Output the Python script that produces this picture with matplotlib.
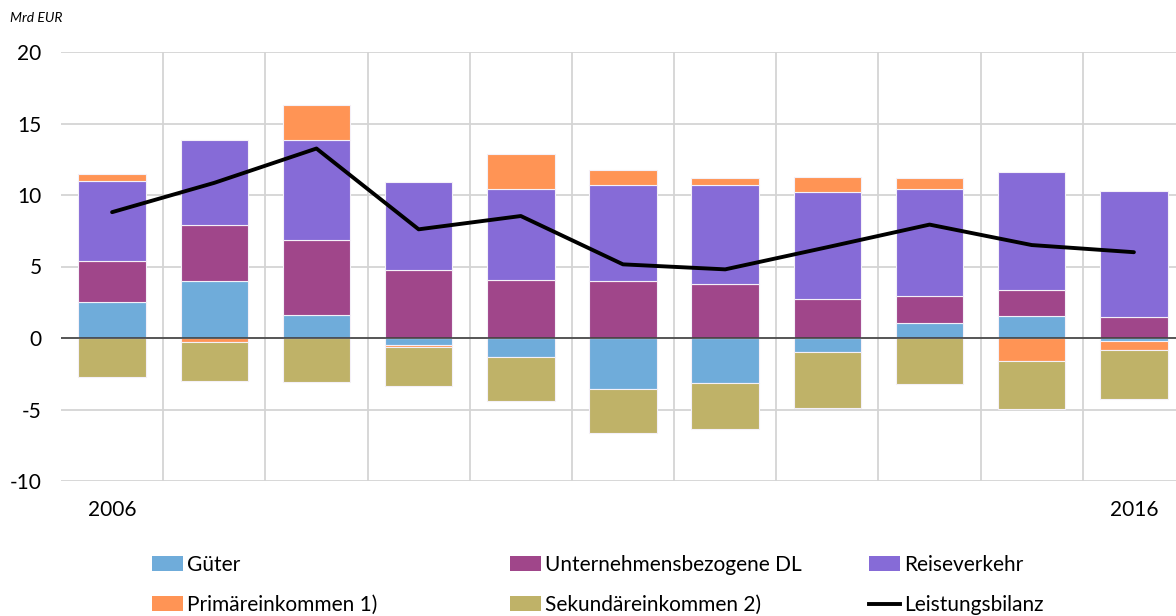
import matplotlib.pyplot as plt
from matplotlib.patches import Patch
from matplotlib.lines import Line2D
import numpy as np

plt.rcParams['font.family'] = ['Lato', 'DejaVu Sans']

years = list(range(2006, 2017))
gueter = [2.55, 4.0, 1.6, -0.5, -1.33, -3.57, -3.15, -0.98, 1.07, 1.54, -0.2]
unternehmens_dl = [2.8, 3.9, 5.23, 4.73, 4.03, 3.96, 3.78, 2.73, 1.84, 1.79, 1.45]
reiseverkehr = [5.65, 5.97, 7.02, 6.17, 6.37, 6.74, 6.94, 7.48, 7.53, 8.26, 8.85]
primaer = [0.5, -0.3, 2.45, -0.15, 2.5, 1.07, 0.45, 1.05, 0.73, -1.61, -0.65]
sekundaer = [-2.7, -2.7, -3.08, -2.7, -3.05, -3.05, -3.21, -3.94, -3.24, -3.36, -3.43]
leistungsbilanz = [8.8, 10.85, 13.25, 7.6, 8.53, 5.15, 4.8, 6.35, 7.93, 6.5, 6.0]

xticklabels = ['2006', '', '', '', '', '', '', '', '', '', '2016']
yticks = [-10, -5, 0, 5, 10, 15, 20]

series = [
    ('Güter', gueter, '#6FACDA'),
    ('Unternehmensbezogene DL', unternehmens_dl, '#A0468A'),
    ('Reiseverkehr', reiseverkehr, '#866BD7'),
    ('Primäreinkommen 1)', primaer, '#FF9455'),
    ('Sekundäreinkommen 2)', sekundaer, '#BFB268'),
]

fig = plt.figure(figsize=(11.76, 6.16), dpi=100)
ax = fig.add_axes([61 / 1176, 1 - 481 / 616, 1124 / 1176, 429 / 616])

x = np.arange(len(years))
pos_base = np.zeros(len(years))
neg_base = np.zeros(len(years))
for name, vals, col in series:
    v = np.array(vals)
    bottom = np.where(v >= 0, pos_base, neg_base)
    ax.bar(x, v, bottom=bottom, width=0.66, color=col, edgecolor='#F4F0F8',
           linewidth=0.8, zorder=3)
    pos_base += np.where(v >= 0, v, 0)
    neg_base += np.where(v < 0, v, 0)

ax.plot(x, leistungsbilanz, color='black', lw=2.8, zorder=5,
        solid_capstyle='round')
ax.axhline(0, color='#404040', lw=1.2, zorder=4)

ax.set_xlim(-0.5, len(years) - 0.5)
ax.set_ylim(-10, 20)
ax.set_yticks(yticks)
ax.set_yticklabels([str(t) for t in yticks], fontsize=15)
ax.set_xticks(x)
ax.set_xticklabels(xticklabels, fontsize=15)
ax.set_xticks(np.arange(0.5, len(years) - 1, 1), minor=True)
ax.tick_params(axis='both', which='both', length=0)
ax.tick_params(axis='x', pad=14)
ax.tick_params(axis='y', pad=14)
ax.grid(axis='y', which='major', color='#D4D4D4', lw=1.3, zorder=0)
ax.grid(axis='x', which='minor', color='#D4D4D4', lw=1.3, zorder=0)
for s in ax.spines.values():
    s.set_visible(False)

fig.text(10 / 1176, 1 - 18 / 616, 'Mrd EUR', fontsize=10, style='italic',
         va='center', ha='left')

cols = [
    [(series[0][0], series[0][2]), (series[3][0], series[3][2])],
    [(series[1][0], series[1][2]), (series[4][0], series[4][2])],
    [(series[2][0], series[2][2]), ('Leistungsbilanz', None)],
]
col_x = [152, 510, 869]
for cx, entries in zip(col_x, cols):
    handles = []
    labels = []
    for lab, col in entries:
        if col is None:
            handles.append(Line2D([], [], color='black', lw=2.8))
        else:
            handles.append(Patch(facecolor=col, edgecolor='none'))
        labels.append(lab)
    fig.legend(handles, labels, loc='upper left',
               bbox_to_anchor=(cx / 1176, 1 - 555 / 616), frameon=False,
               fontsize=15, handlelength=1.5, handleheight=0.7,
               handletextpad=0.2, labelspacing=0.95, borderpad=0,
               borderaxespad=0)

fig.savefig('out.png', dpi=100)
